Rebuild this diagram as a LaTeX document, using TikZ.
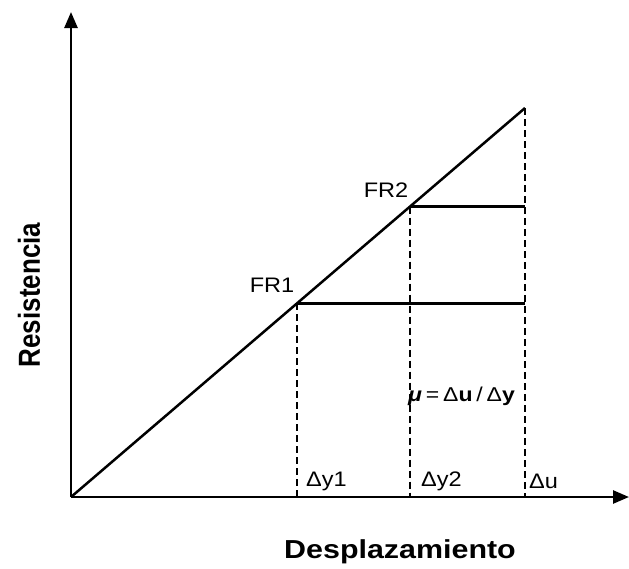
\documentclass[tikz,border=0pt]{standalone}
\usepackage{fontspec}
\setmainfont{Liberation Sans}
\usetikzlibrary{arrows.meta}
\begin{document}
\begin{tikzpicture}[x=1pt,y=-1pt,
  axis/.style={line width=2.6pt,-{Triangle[length=16pt,width=13pt]}},
  curve/.style={line width=2.5pt},
  hline/.style={line width=2.2pt},
  dashline/.style={line width=2.4pt,dash pattern=on 7pt off 4pt},
  lbl/.style={inner sep=0pt,xscale=1.12,font=\fontsize{21}{23}\selectfont},
  ttl/.style={inner sep=0pt,xscale=1.17,font=\bfseries\fontsize{26}{28}\selectfont}]
\useasboundingbox (0,0) rectangle (629,568);
\coordinate (O) at (71,497);
\coordinate (Y) at (71,12);
\coordinate (X) at (629,497);
\coordinate (T) at (525,108);
\coordinate (P1) at (297,303.4);
\coordinate (P2) at (410,206.5);
\coordinate (B1) at (297,497);
\coordinate (B2) at (410,497);
\coordinate (B3) at (525,497);
\coordinate (H1) at (525,303.4);
\coordinate (H2) at (525,206.5);
\draw[dashline] (P1) -- (B1);
\draw[dashline] (P2) -- (B2);
\draw[dashline] (T) -- (B3);
\draw[axis] (O) -- (Y);
\draw[axis] (O) -- (X);
\draw[curve] (O) -- (T);
\draw[hline] (P1) -- (H1);
\draw[hline] (P2) -- (H2);
\node[lbl] (fr1) at (272,285) {FR1};
\node[lbl] (fr2) at (386,190) {FR2};
\node[lbl,anchor=west] (dy1) at (306,481) {Δy1};
\node[lbl,anchor=west] (dy2) at (421,481) {Δy2};
\node[lbl,anchor=west] (du) at (529,481) {Δu};
\node[inner sep=0pt,anchor=west,xscale=1.15,font=\fontsize{20}{22}\selectfont] (mu) at (408,396) {\textbf{\textit{μ}}\,=\,Δ\textbf{u}\,/\,Δ\textbf{y}};
\node[ttl,rotate=90] (res) at (29,295) {Resistencia};
\node[ttl,anchor=west] (des) at (284,552) {Desplazamiento};
\end{tikzpicture}
\end{document}
